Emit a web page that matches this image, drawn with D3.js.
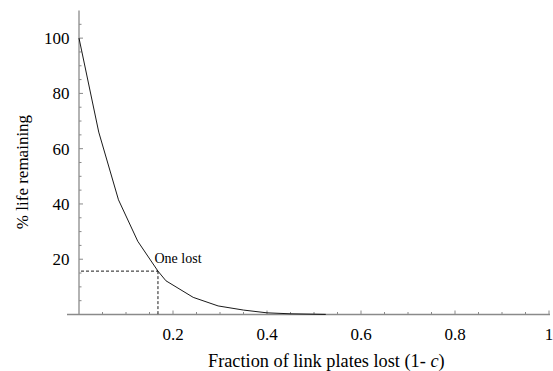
<!DOCTYPE html>
<html>
<head>
<meta charset="utf-8">
<script src="https://cdn.jsdelivr.net/npm/d3@7"></script>
<style>
  body { margin: 0; background: #fff; }
  text { font-family: "Liberation Serif", "Times New Roman", serif; }
</style>
</head>
<body>
<svg id="chart"></svg>
<script>
// curve: fraction lost vs % life remaining
const fractionLost = [0, 0.042, 0.084, 0.125, 0.168, 0.185, 0.243, 0.296, 0.35, 0.4, 0.45, 0.525];
const lifeRemaining = [100, 66, 41.5, 26.5, 15.7, 12.2, 6.2, 3.1, 1.6, 0.6, 0.25, 0.05];

const xMajor = [0.2, 0.4, 0.6, 0.8, 1];
const xMajorLabels = ['0.2', '0.4', '0.6', '0.8', '1'];
const yMajor = [20, 40, 60, 80, 100];
const yMajorLabels = ['20', '40', '60', '80', '100'];

const marker = { x: 0.168, y: 15.7, label: 'One lost' };

const svg = d3.select('#chart').attr('width', 553).attr('height', 371);

const x = d3.scaleLinear().domain([0, 1]).range([79, 549]);
const y = d3.scaleLinear().domain([0, 110]).range([314.5, 10.5]);

const axisColor = '#8a8a8a';

// axis lines
svg.append('line')
  .attr('x1', 67).attr('x2', 550)
  .attr('y1', y(0)).attr('y2', y(0))
  .attr('stroke', axisColor).attr('stroke-width', 1.3);
svg.append('line')
  .attr('x1', x(0)).attr('x2', x(0))
  .attr('y1', y(0)).attr('y2', y(110))
  .attr('stroke', axisColor).attr('stroke-width', 1.3);

// x ticks (inward)
const xMinor = d3.range(1, 21).map(i => i * 0.05);
svg.append('g').selectAll('line')
  .data(xMinor)
  .enter()
  .append('line')
  .attr('x1', d => x(d)).attr('x2', d => x(d))
  .attr('y1', y(0))
  .attr('y2', d => y(0) - (xMajor.some(m => Math.abs(m - d) < 1e-9) ? 4 : 2.5))
  .attr('stroke', axisColor).attr('stroke-width', 1);

svg.append('g').selectAll('text')
  .data(xMajor)
  .enter()
  .append('text')
  .attr('x', d => x(d))
  .attr('y', 339.5)
  .attr('text-anchor', 'middle')
  .attr('font-size', 17)
  .text((d, i) => xMajorLabels[i]);

// y ticks (inward)
const yMinor = d3.range(1, 22).map(i => i * 5);
svg.append('g').selectAll('line')
  .data(yMinor)
  .enter()
  .append('line')
  .attr('x1', x(0))
  .attr('x2', d => x(0) + (d % 20 === 0 ? 4 : 2.5))
  .attr('y1', d => y(d)).attr('y2', d => y(d))
  .attr('stroke', axisColor).attr('stroke-width', 1);

svg.append('g').selectAll('text')
  .data(yMajor)
  .enter()
  .append('text')
  .attr('x', 69.5)
  .attr('y', d => y(d))
  .attr('dy', '0.35em')
  .attr('text-anchor', 'end')
  .attr('font-size', 17)
  .text((d, i) => yMajorLabels[i]);

// dashed guide lines
svg.append('line')
  .attr('x1', x(0) + 2).attr('x2', x(marker.x))
  .attr('y1', y(marker.y)).attr('y2', y(marker.y))
  .attr('stroke', '#000').attr('stroke-width', 0.9)
  .attr('stroke-dasharray', '3,2');
svg.append('line')
  .attr('x1', x(marker.x)).attr('x2', x(marker.x))
  .attr('y1', y(marker.y)).attr('y2', y(0))
  .attr('stroke', '#000').attr('stroke-width', 0.9)
  .attr('stroke-dasharray', '3,2');

// curve
const points = fractionLost.map((f, i) => [f, lifeRemaining[i]]);
svg.append('path')
  .datum(points)
  .attr('fill', 'none')
  .attr('stroke', '#000')
  .attr('stroke-width', 0.9)
  .attr('d', d3.line().x(d => x(d[0])).y(d => y(d[1])));

svg.append('text')
  .attr('x', 154.5)
  .attr('y', 262.5)
  .attr('font-size', 14)
  .text(marker.label);

// axis titles
const xTitle = svg.append('text')
  .attr('x', 208)
  .attr('y', 367)
  .attr('font-size', 18.3);
xTitle.append('tspan').text('Fraction of link plates lost (1- ');
xTitle.append('tspan').attr('font-style', 'italic').text('c');
xTitle.append('tspan').text(')');

svg.append('text')
  .attr('transform', 'translate(28,172) rotate(-90)')
  .attr('text-anchor', 'middle')
  .attr('font-size', 17)
  .text('% life remaining');
</script>
</body>
</html>
